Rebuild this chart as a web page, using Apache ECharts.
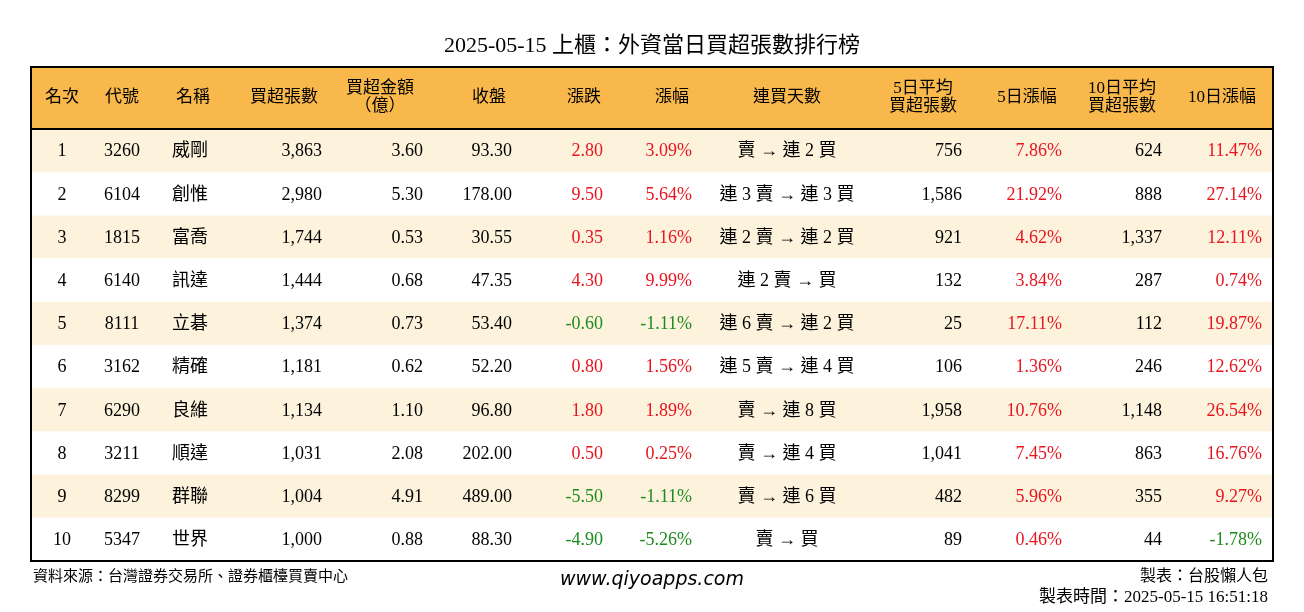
<!DOCTYPE html>
<html><head><meta charset="utf-8">
<script src="https://cdn.jsdelivr.net/npm/echarts@6/dist/echarts.min.js"></script>
<style>html,body{margin:0;padding:0;background:#fff}#c{width:1304px;height:612px}</style>
</head><body><div id="c"></div>
<script>
const ranks = [1,2,3,4,5,6,7,8,9,10];
const codes = ['3260','6104','1815','6140','8111','3162','6290','3211','8299','5347'];
const names = ['威剛','創惟','富喬','訊達','立碁','精確','良維','順達','群聯','世界'];
const netLots = ['3,863','2,980','1,744','1,444','1,374','1,181','1,134','1,031','1,004','1,000'];
const netAmt = ['3.60','5.30','0.53','0.68','0.73','0.62','1.10','2.08','4.91','0.88'];
const closes = ['93.30','178.00','30.55','47.35','53.40','52.20','96.80','202.00','489.00','88.30'];
const changes = ['2.80','9.50','0.35','4.30','-0.60','0.80','1.80','0.50','-5.50','-4.90'];
const pcts = ['3.09%','5.64%','1.16%','9.99%','-1.11%','1.56%','1.89%','0.25%','-1.11%','-5.26%'];
const streaks = ['賣 → 連 2 買','連 3 賣 → 連 3 買','連 2 賣 → 連 2 買','連 2 賣 → 買','連 6 賣 → 連 2 買','連 5 賣 → 連 4 買','賣 → 連 8 買','賣 → 連 4 買','賣 → 連 6 買','賣 → 買'];
const avg5 = ['756','1,586','921','132','25','106','1,958','1,041','482','89'];
const pct5 = ['7.86%','21.92%','4.62%','3.84%','17.11%','1.36%','10.76%','7.45%','5.96%','0.46%'];
const avg10 = ['624','888','1,337','287','112','246','1,148','863','355','44'];
const pct10 = ['11.47%','27.14%','12.11%','0.74%','19.87%','12.62%','26.54%','16.76%','9.27%','-1.78%'];

const headers = ['名次','代號','名稱','買超張數','買超金額\n（億）','收盤','漲跌','漲幅','連買天數','5日平均\n買超張數','5日漲幅','10日平均\n買超張數','10日漲幅'];
const headerX = [62,122,193,284,380,489,584,672,787,923,1027,1122,1222];
// column: [x, align, data, colored]
const cols = [
  [62,'center',ranks,false],[122,'center',codes,false],[172,'left',names,false],
  [322,'right',netLots,false],[423,'right',netAmt,false],[512,'right',closes,false],
  [603,'right',changes,true],[692,'right',pcts,true],[787,'center',streaks,false],
  [962,'right',avg5,false],[1062,'right',pct5,true],[1162,'right',avg10,false],[1262,'right',pct10,true]
];
const FONT = '"Liberation Serif","Noto Sans CJK TC",serif';
const L = 31, R = 1273, TOP = 67, HEAD = 62, RH = 43.2;
const els = [];
els.push({type:'rect',shape:{x:L,y:TOP,width:R-L,height:HEAD},style:{fill:'#F8B84B'}});
ranks.forEach((r,i)=>{
  els.push({type:'rect',shape:{x:L,y:TOP+HEAD+i*RH,width:R-L,height:RH},style:{fill:i%2===0?'#FDF3DD':'#fff'}});
});
els.push({type:'line',shape:{x1:L,y1:TOP+HEAD,x2:R,y2:TOP+HEAD},style:{stroke:'#000',lineWidth:2}});
els.push({type:'rect',shape:{x:L,y:TOP,width:R-L,height:HEAD+10*RH},style:{fill:null,stroke:'#000',lineWidth:2}});
headers.forEach((h,i)=>{
  els.push({type:'text',x:headerX[i],y:TOP+HEAD/2,style:{text:h,font:'17px '+FONT,fill:'#000',align:'center',verticalAlign:'middle',lineHeight:18}});
});
cols.forEach(([x,align,arr,colored])=>{
  arr.forEach((v,i)=>{
    let fill = '#000';
    if (colored) fill = String(v).startsWith('-') ? '#1E8B1E' : '#E8141E';
    els.push({type:'text',x:x,y:TOP+HEAD+i*RH+RH/2+1,style:{text:String(v),font:'18px '+FONT,fill:fill,align:align,verticalAlign:'middle'}});
  });
});
els.push({type:'text',x:33,y:577,style:{text:'資料來源：台灣證券交易所、證券櫃檯買賣中心',font:'15px '+FONT,fill:'#000',verticalAlign:'middle'}});
els.push({type:'text',x:652,y:580,style:{text:'www.qiyoapps.com',font:'italic 19px "DejaVu Sans",sans-serif',fill:'#000',align:'center',verticalAlign:'middle'}});
els.push({type:'text',x:1268,y:577,style:{text:'製表：台股懶人包',font:'16px '+FONT,fill:'#000',align:'right',verticalAlign:'middle'}});
els.push({type:'text',x:1268,y:598,style:{text:'製表時間：2025-05-15 16:51:18',font:'17px '+FONT,fill:'#000',align:'right',verticalAlign:'middle'}});

const chart = echarts.init(document.getElementById('c'));
chart.setOption({
  title:{text:'2025-05-15 上櫃：外資當日買超張數排行榜',left:'center',top:30,textStyle:{fontFamily:FONT,fontSize:22,fontWeight:'normal',color:'#000'}},
  graphic:{elements:els}
});
</script></body></html>
